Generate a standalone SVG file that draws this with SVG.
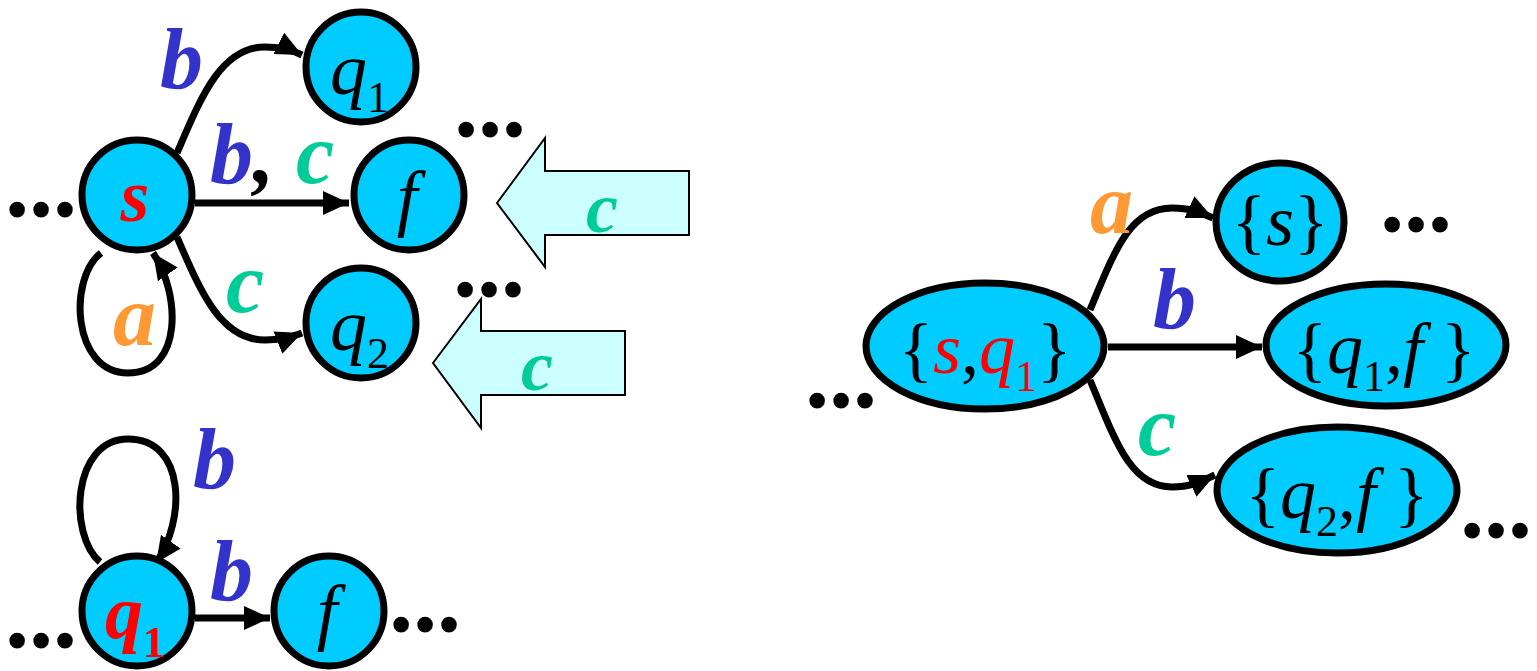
<svg xmlns="http://www.w3.org/2000/svg" width="1537" height="671" viewBox="0 0 1537 671">
<style>
.nd { fill: #00CCFF; stroke: #000; stroke-width: 7; }
.ed { fill: none; stroke: #000; stroke-width: 7; marker-end: url(#ah); }
.blk { fill: #CCFFFF; stroke: #000; stroke-width: 2; }
.dots { fill: #000; stroke: #000; stroke-width: 4; }
.bl { fill: #3333CC; } .gr { fill: #00CC99; } .or { fill: #FF9933; } .rd { fill: #FF0000; }
</style>
<defs>
<marker id="ah" markerUnits="userSpaceOnUse" markerWidth="30" markerHeight="26" refX="26" refY="12" orient="auto"><path d="M0,0 L26,12 L0,24 Z" fill="#000"/></marker>
</defs>
<g id="connectors">
<path class="ed" d="M177,153 C200,100 220,47 265,47 C282,47 292,50 302,55"/>
<path class="ed" d="M195,203 L349,203"/>
<path class="ed" d="M177,237 C200,290 220,340 265,340 C282,340 292,337 302,333"/>
<path class="ed" d="M101,253 C68,278 72,373 128,373 C184,373 180,292 153,253"/>
<path class="ed" d="M100,562 C68,535 72,439 128,439 C186,439 186,520 156,563"/>
<path class="ed" d="M195,618 L270,618"/>
<path class="ed" d="M1090,310 C1115,250 1130,208 1172,208 C1190,208 1200,212 1213,218"/>
<path class="ed" d="M1108,347 L1262,347"/>
<path class="ed" d="M1090,380 C1115,440 1130,487 1172,487 C1190,487 1200,482 1215,475"/>
</g>
<g id="labels" font-family="Liberation Serif" font-weight="bold" font-style="italic" font-size="86">
<text class="bl" x="160" y="88">b</text>
<text x="210" y="183"><tspan class="bl">b</tspan><tspan fill="#000">, </tspan><tspan class="gr">c</tspan></text>
<text class="gr" x="226" y="312">c</text>
<text class="or" x="113" y="345">a</text>
<text class="bl" x="193" y="488">b</text>
<text class="bl" x="210" y="600">b</text>
<text class="or" x="1090" y="233">a</text>
<text class="bl" x="1153" y="328">b</text>
<text class="gr" x="1138" y="455">c</text>
</g>
<g id="arrow1">
<polygon class="blk" points="497,203 545,138 545,171 689,171 689,235 545,235 545,267"/>
<text class="gr" x="586" y="232" font-family="Liberation Serif" font-weight="bold" font-style="italic" font-size="72">c</text>
</g>
<g id="arrow2">
<polygon class="blk" points="433,363 481,299 481,331 625,331 625,395 481,395 481,428"/>
<text class="gr" x="521" y="390" font-family="Liberation Serif" font-weight="bold" font-style="italic" font-size="72">c</text>
</g>
<g id="node-s">
<circle class="nd" cx="137" cy="195" r="55"/>
<text class="rd" x="135" y="221" text-anchor="middle" font-family="Liberation Serif" font-weight="bold" font-style="italic" font-size="74">s</text>
</g>
<g id="node-q1">
<circle class="nd" cx="361" cy="67" r="55"/>
<text x="330" y="94" font-family="Liberation Serif" font-style="italic" font-size="74">q<tspan font-style="normal" font-size="44" dy="18">1</tspan></text>
</g>
<g id="node-f">
<circle class="nd" cx="409" cy="195" r="55"/>
<text x="407" y="222" text-anchor="middle" font-family="Liberation Serif" font-style="italic" font-size="74">f</text>
</g>
<g id="node-q2">
<circle class="nd" cx="361" cy="323" r="55"/>
<text x="330" y="350" font-family="Liberation Serif" font-style="italic" font-size="74">q<tspan font-style="normal" font-size="44" dy="18">2</tspan></text>
</g>
<g id="node-q1b">
<circle class="nd" cx="137" cy="611" r="55"/>
<text class="rd" x="105" y="638" font-family="Liberation Serif" font-weight="bold" font-style="italic" font-size="76">q<tspan font-style="normal" font-size="44" dy="19">1</tspan></text>
</g>
<g id="node-fb">
<circle class="nd" cx="329" cy="611" r="55"/>
<text x="327" y="636" text-anchor="middle" font-family="Liberation Serif" font-style="italic" font-size="74">f</text>
</g>
<g id="node-sq1">
<ellipse class="nd" cx="985" cy="346" rx="119" ry="63"/>
<text x="985" y="373" text-anchor="middle" font-family="Liberation Serif" font-size="72">{<tspan font-style="italic" fill="#FF0000">s</tspan>,<tspan font-style="italic" fill="#FF0000">q</tspan><tspan font-size="44" fill="#FF0000" dy="18">1</tspan><tspan dy="-18">}</tspan></text>
</g>
<g id="node-set-s">
<ellipse class="nd" cx="1280" cy="222" rx="64" ry="59"/>
<text x="1280" y="245" text-anchor="middle" font-family="Liberation Serif" font-size="72">{<tspan font-style="italic">s</tspan>}</text>
</g>
<g id="node-q1f">
<ellipse class="nd" cx="1386" cy="345" rx="120" ry="61"/>
<text x="1384" y="373" text-anchor="middle" font-family="Liberation Serif" font-size="72">{<tspan font-style="italic">q</tspan><tspan font-size="44" dy="18">1</tspan><tspan dy="-18">,</tspan><tspan font-style="italic">f</tspan> }</text>
</g>
<g id="node-q2f">
<ellipse class="nd" cx="1337" cy="490" rx="120" ry="63"/>
<text x="1337" y="518" text-anchor="middle" font-family="Liberation Serif" font-size="72">{<tspan font-style="italic">q</tspan><tspan font-size="44" dy="18">2</tspan><tspan dy="-18">,</tspan><tspan font-style="italic">f</tspan> }</text>
</g>
<g id="ellipses" font-family="Liberation Serif" font-weight="bold" font-size="71" text-anchor="middle">
<text class="dots" x="41" y="215">…</text>
<text class="dots" x="490" y="135">…</text>
<text class="dots" x="489" y="295">…</text>
<text class="dots" x="41" y="646">…</text>
<text class="dots" x="425" y="630">…</text>
<text class="dots" x="841" y="406">…</text>
<text class="dots" x="1416" y="230">…</text>
<text class="dots" x="1496" y="536">…</text>
</g>
</svg>
